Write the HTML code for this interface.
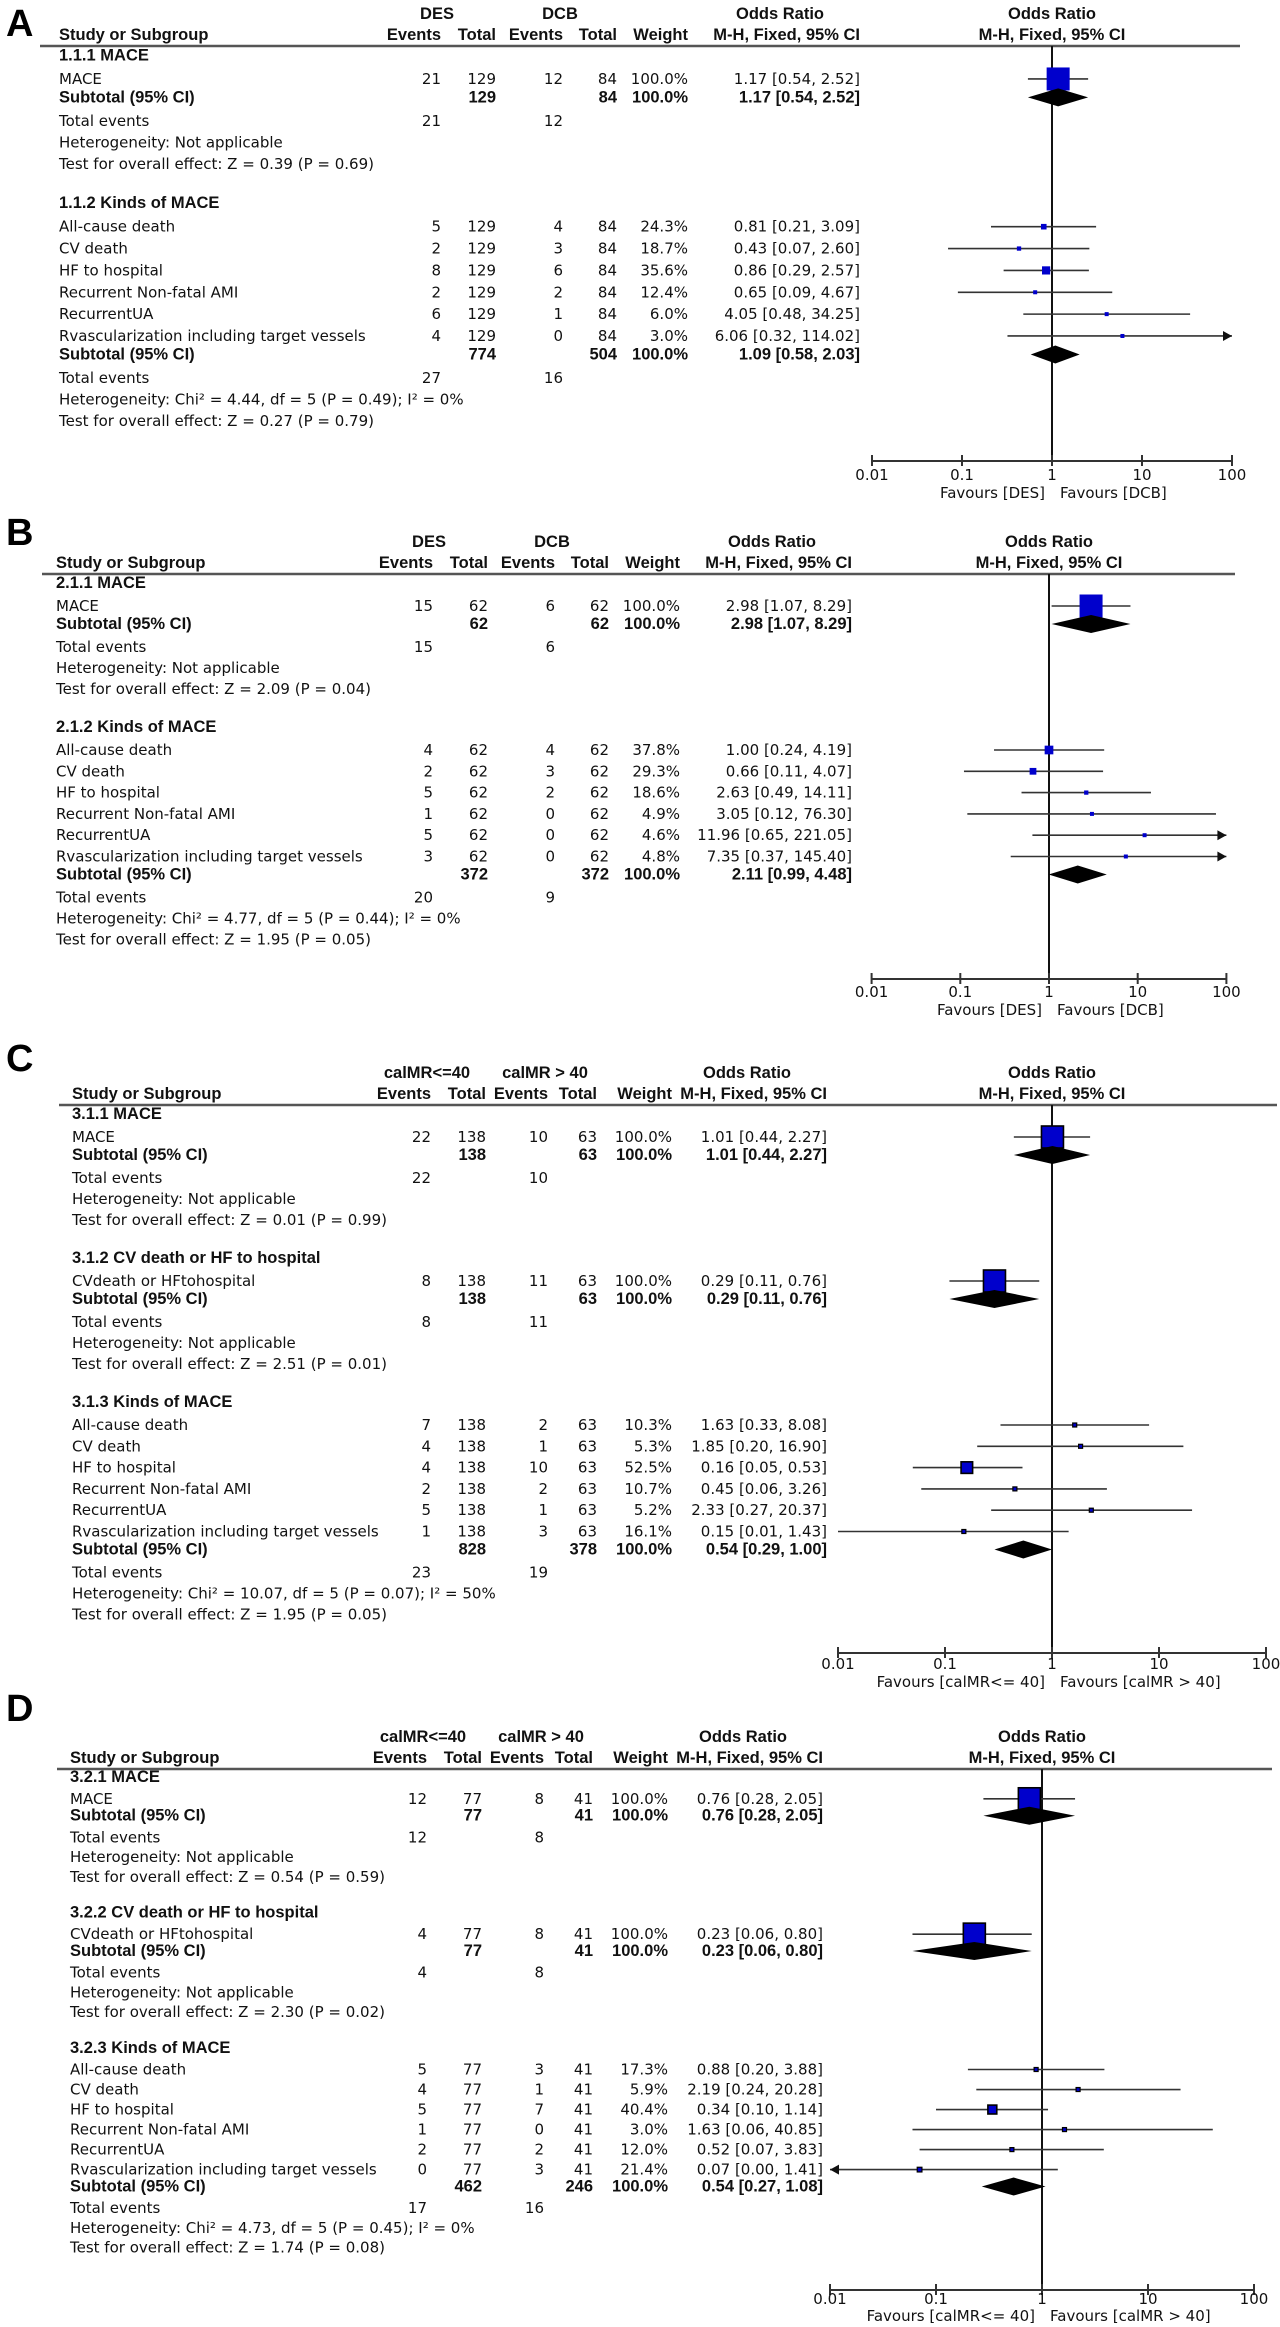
<!DOCTYPE html>
<html><head><meta charset="utf-8"><title>Forest plots</title>
<style>
html,body{margin:0;padding:0;background:#fff;}
svg{display:block;}
text{font-family:"DejaVu Sans","Liberation Sans",sans-serif;font-size:15px;fill:#111;}
.b{font-family:"Liberation Sans",sans-serif;font-weight:bold;font-size:16.5px;}
.lbl{font-family:"Liberation Sans",sans-serif;font-weight:bold;font-size:38px;fill:#000;}
</style></head>
<body>
<svg id="fig" xmlns="http://www.w3.org/2000/svg" width="1280" height="2327" viewBox="0 0 1280 2327"></svg>
<script>
// ---------- shared axis data ----------
const tickValues = [0.01, 0.1, 1, 10, 100];
const tickLabels = ["0.01", "0.1", "1", "10", "100"];

// ---------- Panel A data ----------
const A_groupTitles = ["1.1.1 MACE", "1.1.2 Kinds of MACE"];
const A_groupSizes = [1, 6];
const A_labels = ["MACE", "All-cause death", "CV death", "HF to hospital", "Recurrent Non-fatal AMI", "RecurrentUA", "Rvascularization including target vessels"];
const A_ev1 = [21, 5, 2, 8, 2, 6, 4];
const A_tot1 = [129, 129, 129, 129, 129, 129, 129];
const A_ev2 = [12, 4, 3, 6, 2, 1, 0];
const A_tot2 = [84, 84, 84, 84, 84, 84, 84];
const A_wt = [100.0, 24.3, 18.7, 35.6, 12.4, 6.0, 3.0];
const A_or = [1.17, 0.81, 0.43, 0.86, 0.65, 4.05, 6.06];
const A_lo = [0.54, 0.21, 0.07, 0.29, 0.09, 0.48, 0.32];
const A_hi = [2.52, 3.09, 2.60, 2.57, 4.67, 34.25, 114.02];
const A_subTot1 = [129, 774];
const A_subTot2 = [84, 504];
const A_subOr = [1.17, 1.09];
const A_subLo = [0.54, 0.58];
const A_subHi = [2.52, 2.03];
const A_te1 = [21, 27];
const A_te2 = [12, 16];
const A_het = ["Not applicable", "Chi² = 4.44, df = 5 (P = 0.49); I² = 0%"];
const A_test = ["Z = 0.39 (P = 0.69)", "Z = 0.27 (P = 0.79)"];

// ---------- Panel B data ----------
const B_groupTitles = ["2.1.1 MACE", "2.1.2 Kinds of MACE"];
const B_groupSizes = [1, 6];
const B_labels = ["MACE", "All-cause death", "CV death", "HF to hospital", "Recurrent Non-fatal AMI", "RecurrentUA", "Rvascularization including target vessels"];
const B_ev1 = [15, 4, 2, 5, 1, 5, 3];
const B_tot1 = [62, 62, 62, 62, 62, 62, 62];
const B_ev2 = [6, 4, 3, 2, 0, 0, 0];
const B_tot2 = [62, 62, 62, 62, 62, 62, 62];
const B_wt = [100.0, 37.8, 29.3, 18.6, 4.9, 4.6, 4.8];
const B_or = [2.98, 1.00, 0.66, 2.63, 3.05, 11.96, 7.35];
const B_lo = [1.07, 0.24, 0.11, 0.49, 0.12, 0.65, 0.37];
const B_hi = [8.29, 4.19, 4.07, 14.11, 76.30, 221.05, 145.40];
const B_subTot1 = [62, 372];
const B_subTot2 = [62, 372];
const B_subOr = [2.98, 2.11];
const B_subLo = [1.07, 0.99];
const B_subHi = [8.29, 4.48];
const B_te1 = [15, 20];
const B_te2 = [6, 9];
const B_het = ["Not applicable", "Chi² = 4.77, df = 5 (P = 0.44); I² = 0%"];
const B_test = ["Z = 2.09 (P = 0.04)", "Z = 1.95 (P = 0.05)"];

// ---------- Panel C data ----------
const C_groupTitles = ["3.1.1 MACE", "3.1.2 CV death or HF to hospital", "3.1.3 Kinds of MACE"];
const C_groupSizes = [1, 1, 6];
const C_labels = ["MACE", "CVdeath or HFtohospital", "All-cause death", "CV death", "HF to hospital", "Recurrent Non-fatal AMI", "RecurrentUA", "Rvascularization including target vessels"];
const C_ev1 = [22, 8, 7, 4, 4, 2, 5, 1];
const C_tot1 = [138, 138, 138, 138, 138, 138, 138, 138];
const C_ev2 = [10, 11, 2, 1, 10, 2, 1, 3];
const C_tot2 = [63, 63, 63, 63, 63, 63, 63, 63];
const C_wt = [100.0, 100.0, 10.3, 5.3, 52.5, 10.7, 5.2, 16.1];
const C_or = [1.01, 0.29, 1.63, 1.85, 0.16, 0.45, 2.33, 0.15];
const C_lo = [0.44, 0.11, 0.33, 0.20, 0.05, 0.06, 0.27, 0.01];
const C_hi = [2.27, 0.76, 8.08, 16.90, 0.53, 3.26, 20.37, 1.43];
const C_subTot1 = [138, 138, 828];
const C_subTot2 = [63, 63, 378];
const C_subOr = [1.01, 0.29, 0.54];
const C_subLo = [0.44, 0.11, 0.29];
const C_subHi = [2.27, 0.76, 1.00];
const C_te1 = [22, 8, 23];
const C_te2 = [10, 11, 19];
const C_het = ["Not applicable", "Not applicable", "Chi² = 10.07, df = 5 (P = 0.07); I² = 50%"];
const C_test = ["Z = 0.01 (P = 0.99)", "Z = 2.51 (P = 0.01)", "Z = 1.95 (P = 0.05)"];

// ---------- Panel D data ----------
const D_groupTitles = ["3.2.1 MACE", "3.2.2 CV death or HF to hospital", "3.2.3 Kinds of MACE"];
const D_groupSizes = [1, 1, 6];
const D_labels = ["MACE", "CVdeath or HFtohospital", "All-cause death", "CV death", "HF to hospital", "Recurrent Non-fatal AMI", "RecurrentUA", "Rvascularization including target vessels"];
const D_ev1 = [12, 4, 5, 4, 5, 1, 2, 0];
const D_tot1 = [77, 77, 77, 77, 77, 77, 77, 77];
const D_ev2 = [8, 8, 3, 1, 7, 0, 2, 3];
const D_tot2 = [41, 41, 41, 41, 41, 41, 41, 41];
const D_wt = [100.0, 100.0, 17.3, 5.9, 40.4, 3.0, 12.0, 21.4];
const D_or = [0.76, 0.23, 0.88, 2.19, 0.34, 1.63, 0.52, 0.07];
const D_lo = [0.28, 0.06, 0.20, 0.24, 0.10, 0.06, 0.07, 0.00];
const D_hi = [2.05, 0.80, 3.88, 20.28, 1.14, 40.85, 3.83, 1.41];
const D_subTot1 = [77, 77, 462];
const D_subTot2 = [41, 41, 246];
const D_subOr = [0.76, 0.23, 0.54];
const D_subLo = [0.28, 0.06, 0.27];
const D_subHi = [2.05, 0.80, 1.08];
const D_te1 = [12, 4, 17];
const D_te2 = [8, 8, 16];
const D_het = ["Not applicable", "Not applicable", "Chi² = 4.73, df = 5 (P = 0.45); I² = 0%"];
const D_test = ["Z = 0.54 (P = 0.59)", "Z = 2.30 (P = 0.02)", "Z = 1.74 (P = 0.08)"];

const SVGNS = "http://www.w3.org/2000/svg";
const fig = document.getElementById("fig");

function mk(parent, tag, attrs) {
  const el = document.createElementNS(SVGNS, tag);
  for (const k in attrs) el.setAttribute(k, attrs[k]);
  parent.appendChild(el);
  return el;
}
function txt(parent, x, y, s, anchor, cls) {
  const t = mk(parent, "text", {x: x, y: y});
  if (anchor) t.setAttribute("text-anchor", anchor);
  if (cls) t.setAttribute("class", cls);
  t.textContent = s;
  return t;
}

function drawPanel(d, L) {
  const g = mk(fig, "g", {});
  
  
  const xs = v => L.fx1 + L.dec * Math.log10(v);
  const k = L.k;
  const c = L.col;

  const lab = txt(g, 6, L.labelY, L.label, null, "lbl");
  
  

  const hg = mk(g, "g", {});
  
  
  const gy = L.L - 27, hy = L.L - 6;
  txt(hg, L.g1x, gy, L.grp1, "middle", "b");
  txt(hg, L.g2x, gy, L.grp2, "middle", "b");
  txt(hg, c.ci - 80, gy, "Odds Ratio", "middle", "b");
  txt(hg, L.fx1, gy, "Odds Ratio", "middle", "b");
  txt(hg, L.textX, hy, "Study or Subgroup", null, "b");
  txt(hg, c.ev1, hy, "Events", "end", "b");
  txt(hg, c.tot1, hy, "Total", "end", "b");
  txt(hg, c.ev2, hy, "Events", "end", "b");
  txt(hg, c.tot2, hy, "Total", "end", "b");
  txt(hg, c.wt, hy, "Weight", "end", "b");
  txt(hg, c.ci, hy, "M-H, Fixed, 95% CI", "end", "b");
  txt(hg, L.fx1, hy, "M-H, Fixed, 95% CI", "middle", "b");
  const hl = mk(g, "line", {x1: L.lineX1, x2: L.lineX2, y1: L.L, y2: L.L, stroke: "#555", "stroke-width": 2.5});
  
  

  const nl = mk(g, "line", {x1: xs(1), x2: xs(1), y1: L.L, y2: L.axisY, stroke: "#111", "stroke-width": 2});
  
  

  let y = L.L + 14 * k;
  let r = 0;
  const xmin = tickValues[0], xmax = tickValues[tickValues.length - 1];
  for (let gi = 0; gi < d.groupTitles.length; gi++) {
    if (gi > 0) y += 38 * k;
    const st = txt(g, L.textX, y, d.groupTitles[gi], null, "b");
    
    
    y += 23 * k;
    for (let j = 0; j < d.groupSizes[gi]; j++, r++) {
      if (j > 0) y += 21.3 * k;
      const rg = mk(g, "g", {});
      
      
      txt(rg, L.textX, y, d.labels[r]);
      txt(rg, c.ev1, y, String(d.ev1[r]), "end");
      txt(rg, c.tot1, y, String(d.tot1[r]), "end");
      txt(rg, c.ev2, y, String(d.ev2[r]), "end");
      txt(rg, c.tot2, y, String(d.tot2[r]), "end");
      txt(rg, c.wt, y, d.wt[r].toFixed(1) + "%", "end");
      txt(rg, c.ci, y, d.or[r].toFixed(2) + " [" + d.lo[r].toFixed(2) + ", " + d.hi[r].toFixed(2) + "]", "end");
      const yc = y - 5;
      const lo = Math.max(d.lo[r], xmin), hi = Math.min(d.hi[r], xmax);
      const x1 = d.lo[r] <= xmin ? xs(xmin) : xs(lo);
      const x2 = d.hi[r] >= xmax ? xs(xmax) : xs(hi);
      const ci = mk(rg, "line", {x1: x1, x2: x2, y1: yc, y2: yc, stroke: "#333", "stroke-width": 1.6});
      
      
      if (d.hi[r] > xmax) {
        const ar = mk(rg, "path", {d: `M${x2},${yc} l-9,-5 l0,10 z`, fill: "#111"});
        
        
      }
      if (d.lo[r] < xmin || d.lo[r] <= 0) {
        const al = mk(rg, "path", {d: `M${x1},${yc} l9,-5 l0,10 z`, fill: "#111"});
        
        
      }
      const s = Math.max(4, L.sqMax * d.wt[r] / 100);
      const sq = mk(rg, "rect", {x: xs(d.or[r]) - s / 2, y: yc - s / 2, width: s, height: s, fill: "#0000cc"});
      if (L.stroke) { sq.setAttribute("stroke", "#000"); sq.setAttribute("stroke-width", s > 8 ? 1.6 : 1.2); }
      
      
    }
    y += 18 * k;
    const sg = mk(g, "g", {});
    
    
    txt(sg, L.textX, y, "Subtotal (95% CI)", null, "b");
    txt(sg, c.tot1, y, String(d.subTot1[gi]), "end", "b");
    txt(sg, c.tot2, y, String(d.subTot2[gi]), "end", "b");
    txt(sg, c.wt, y, "100.0%", "end", "b");
    txt(sg, c.ci, y, d.subOr[gi].toFixed(2) + " [" + d.subLo[gi].toFixed(2) + ", " + d.subHi[gi].toFixed(2) + "]", "end", "b");
    const yc = y - 5;
    const dm = mk(sg, "path", {d: `M${xs(d.subLo[gi])},${yc} L${xs(d.subOr[gi])},${yc - 9} L${xs(d.subHi[gi])},${yc} L${xs(d.subOr[gi])},${yc + 9} Z`, fill: "#000"});
    
    
    y += 23 * k;
    const te = mk(g, "g", {});
    
    
    txt(te, L.textX, y, "Total events");
    txt(te, c.ev1, y, String(d.te1[gi]), "end");
    txt(te, c.ev2, y, String(d.te2[gi]), "end");
    y += 21 * k;
    const he = txt(g, L.textX, y, "Heterogeneity: " + d.het[gi]);
    
    
    y += 21 * k;
    const te2 = txt(g, L.textX, y, "Test for overall effect: " + d.test[gi]);
    
    
  }

  const ag = mk(g, "g", {});
  
  
  mk(ag, "line", {x1: xs(xmin), x2: xs(xmax), y1: L.axisY, y2: L.axisY, stroke: "#333", "stroke-width": 2});
  for (let i = 0; i < tickValues.length; i++) {
    const tx = xs(tickValues[i]);
    const tk = mk(ag, "line", {x1: tx, x2: tx, y1: L.axisY - 6, y2: L.axisY + 5, stroke: "#333", "stroke-width": 2});
    
    
    const tl = txt(ag, tx, L.axisY + L.tdy, tickLabels[i], "middle");
    
    
  }
  const f1 = txt(ag, xs(1) - 7, L.axisY + L.fdy, L.fav1, "end");
  
  
  const f2 = txt(ag, xs(1) + 8, L.axisY + L.fdy, L.fav2, "start");
  
  
}

function pack(p) {
  return {groupTitles: p[0], groupSizes: p[1], labels: p[2], ev1: p[3], tot1: p[4], ev2: p[5], tot2: p[6], wt: p[7], or: p[8], lo: p[9], hi: p[10],
    subTot1: p[11], subTot2: p[12], subOr: p[13], subLo: p[14], subHi: p[15], te1: p[16], te2: p[17], het: p[18], test: p[19]};
}

drawPanel(pack([A_groupTitles, A_groupSizes, A_labels, A_ev1, A_tot1, A_ev2, A_tot2, A_wt, A_or, A_lo, A_hi, A_subTot1, A_subTot2, A_subOr, A_subLo, A_subHi, A_te1, A_te2, A_het, A_test]),
  {label: "A", labelY: 36, L: 46, k: 1.026, textX: 59, lineX1: 40, lineX2: 1240,
   col: {ev1: 441, tot1: 496, ev2: 563, tot2: 617, wt: 688, ci: 860}, grp1: "DES", grp2: "DCB", g1x: 437, g2x: 560,
   fx1: 1052, dec: 90, axisY: 461, tdy: 19, fdy: 37, fav1: "Favours [DES]", fav2: "Favours [DCB]", sqMax: 23, stroke: false});

drawPanel(pack([B_groupTitles, B_groupSizes, B_labels, B_ev1, B_tot1, B_ev2, B_tot2, B_wt, B_or, B_lo, B_hi, B_subTot1, B_subTot2, B_subOr, B_subLo, B_subHi, B_te1, B_te2, B_het, B_test]),
  {label: "B", labelY: 545, L: 574, k: 1.0, textX: 56, lineX1: 42, lineX2: 1235,
   col: {ev1: 433, tot1: 488, ev2: 555, tot2: 609, wt: 680, ci: 852}, grp1: "DES", grp2: "DCB", g1x: 429, g2x: 552,
   fx1: 1049, dec: 88.7, axisY: 979, tdy: 18, fdy: 36, fav1: "Favours [DES]", fav2: "Favours [DCB]", sqMax: 23, stroke: false});

drawPanel(pack([C_groupTitles, C_groupSizes, C_labels, C_ev1, C_tot1, C_ev2, C_tot2, C_wt, C_or, C_lo, C_hi, C_subTot1, C_subTot2, C_subOr, C_subLo, C_subHi, C_te1, C_te2, C_het, C_test]),
  {label: "C", labelY: 1071, L: 1105, k: 1.0, textX: 72, lineX1: 59, lineX2: 1277,
   col: {ev1: 431, tot1: 486, ev2: 548, tot2: 597, wt: 672, ci: 827}, grp1: "calMR<=40", grp2: "calMR > 40", g1x: 427, g2x: 545,
   fx1: 1052, dec: 107, axisY: 1653, tdy: 16, fdy: 34, fav1: "Favours [calMR<= 40]", fav2: "Favours [calMR > 40]", sqMax: 22, stroke: true});

drawPanel(pack([D_groupTitles, D_groupSizes, D_labels, D_ev1, D_tot1, D_ev2, D_tot2, D_wt, D_or, D_lo, D_hi, D_subTot1, D_subTot2, D_subOr, D_subLo, D_subHi, D_te1, D_te2, D_het, D_test]),
  {label: "D", labelY: 1721, L: 1769, k: 0.94, textX: 70, lineX1: 57, lineX2: 1272,
   col: {ev1: 427, tot1: 482, ev2: 544, tot2: 593, wt: 668, ci: 823}, grp1: "calMR<=40", grp2: "calMR > 40", g1x: 423, g2x: 541,
   fx1: 1042, dec: 106, axisY: 2290, tdy: 14, fdy: 31, fav1: "Favours [calMR<= 40]", fav2: "Favours [calMR > 40]", sqMax: 22, stroke: true});
</script>
</body></html>
